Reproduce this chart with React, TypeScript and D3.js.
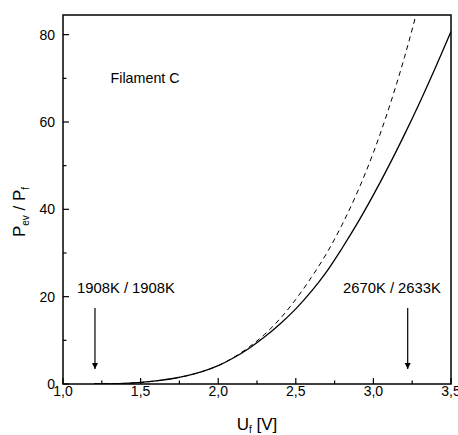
import React from "react";
import * as d3 from "d3";

const voltage = [1.2,1.3,1.4,1.5,1.6,1.7,1.8,1.9,2.0,2.1,2.2,2.3,2.4,2.5,2.6,2.7,2.8,2.9,3.0,3.1,3.2,3.3,3.4,3.5];
const solidRatio = [0.0,0.05,0.15,0.35,0.7,1.2,1.9,2.9,4.2,6.0,8.2,10.8,13.8,17.2,21.2,25.8,31.2,37.0,43.3,50.0,57.1,64.6,72.5,80.7];
const dashedRatio = [0.0,0.05,0.15,0.35,0.7,1.2,1.9,2.9,4.2,6.1,8.5,11.4,15.0,19.4,24.4,30.0,36.6,44.2,53.0,63.2,74.8,88.0,102,117];
const xTicks = [1.0,1.5,2.0,2.5,3.0,3.5];
const xMinorTicks = [1.25,1.75,2.25,2.75,3.25];
const yTicks = [0,20,40,60,80];
const yMinorTicks = [10,30,50,70];
const arrowU = [1.206, 3.221];
const arrowLabels = ["1908K / 1908K", "2670K / 2633K"];

const W = 458, H = 435;
const L = 63, R = 451, T = 15, B = 384;
const font = "Liberation Sans, Arial, Helvetica, sans-serif";

export default function App() {
  const x = d3.scaleLinear().domain([1.0, 3.5]).range([L, R]);
  const y = d3.scaleLinear().domain([0, 84.5]).range([B, T]);
  const line = (vals: number[]) =>
    d3.line<number>()
      .x((_, i) => x(voltage[i]))
      .y((v) => y(v))
      .curve(d3.curveCatmullRom.alpha(0.5))(vals) || "";
  const fmt = (v: number) => v.toFixed(1).replace(".", ",");

  return (
    <svg width={W} height={H} style={{ position: "absolute", left: 0, top: 0, background: "#fff" }}>
      <defs>
        <clipPath id="plot">
          <rect x={L} y={T} width={R - L} height={B - T} />
        </clipPath>
        <marker id="ah" viewBox="0 0 10 10" refX="10" refY="5" markerWidth="6" markerHeight="9" orient="auto" markerUnits="userSpaceOnUse">
          <path d="M0,0 L10,5 L0,10 z" fill="#000" />
        </marker>
      </defs>
      <g clipPath="url(#plot)" fill="none" stroke="#000">
        <path d={line(solidRatio)} strokeWidth={1.3} />
        <path d={line(dashedRatio)} strokeWidth={1} strokeDasharray="5,4" />
      </g>
      <rect x={L} y={T} width={R - L} height={B - T} fill="none" stroke="#000" strokeWidth={1.5} />
      {xTicks.map((t) => (
        <g key={"x" + t}>
          <line x1={x(t)} x2={x(t)} y1={B} y2={B - 6} stroke="#000" strokeWidth={1.2} />
          <text x={x(t)} y={396} textAnchor="middle" fontFamily={font} fontSize={14}>{fmt(t)}</text>
        </g>
      ))}
      {xMinorTicks.map((t) => (
        <line key={"xm" + t} x1={x(t)} x2={x(t)} y1={B} y2={B - 3.5} stroke="#000" strokeWidth={1.2} />
      ))}
      {yTicks.map((t) => (
        <g key={"y" + t}>
          <line x1={L} x2={L + 6} y1={y(t)} y2={y(t)} stroke="#000" strokeWidth={1.2} />
          <text x={55} y={y(t) + 5} textAnchor="end" fontFamily={font} fontSize={14}>{t}</text>
        </g>
      ))}
      {yMinorTicks.map((t) => (
        <line key={"ym" + t} x1={L} x2={L + 3.5} y1={y(t)} y2={y(t)} stroke="#000" strokeWidth={1.2} />
      ))}
      {arrowU.map((u, i) => (
        <g key={"a" + i}>
          <line x1={x(u)} x2={x(u)} y1={308} y2={369} stroke="#000" strokeWidth={1.2} markerEnd="url(#ah)" />
          <text x={i === 0 ? 77 : 343} y={293} fontFamily={font} fontSize={14.8}>{arrowLabels[i]}</text>
        </g>
      ))}
      <text x={110.5} y={82.5} fontFamily={font} fontSize={14.3}>Filament C</text>
      <text x={257} y={430} textAnchor="middle" fontFamily={font} fontSize={17}>
        U<tspan fontSize={10} dy={3}>f</tspan><tspan dy={-3}> [V]</tspan>
      </text>
      <text transform={`translate(25,212) rotate(-90)`} textAnchor="middle" fontFamily={font} fontSize={17}>
        P<tspan fontSize={10} dy={4}>ev</tspan><tspan dy={-4}> / P</tspan><tspan fontSize={10} dy={4}>f</tspan>
      </text>
    </svg>
  );
}
